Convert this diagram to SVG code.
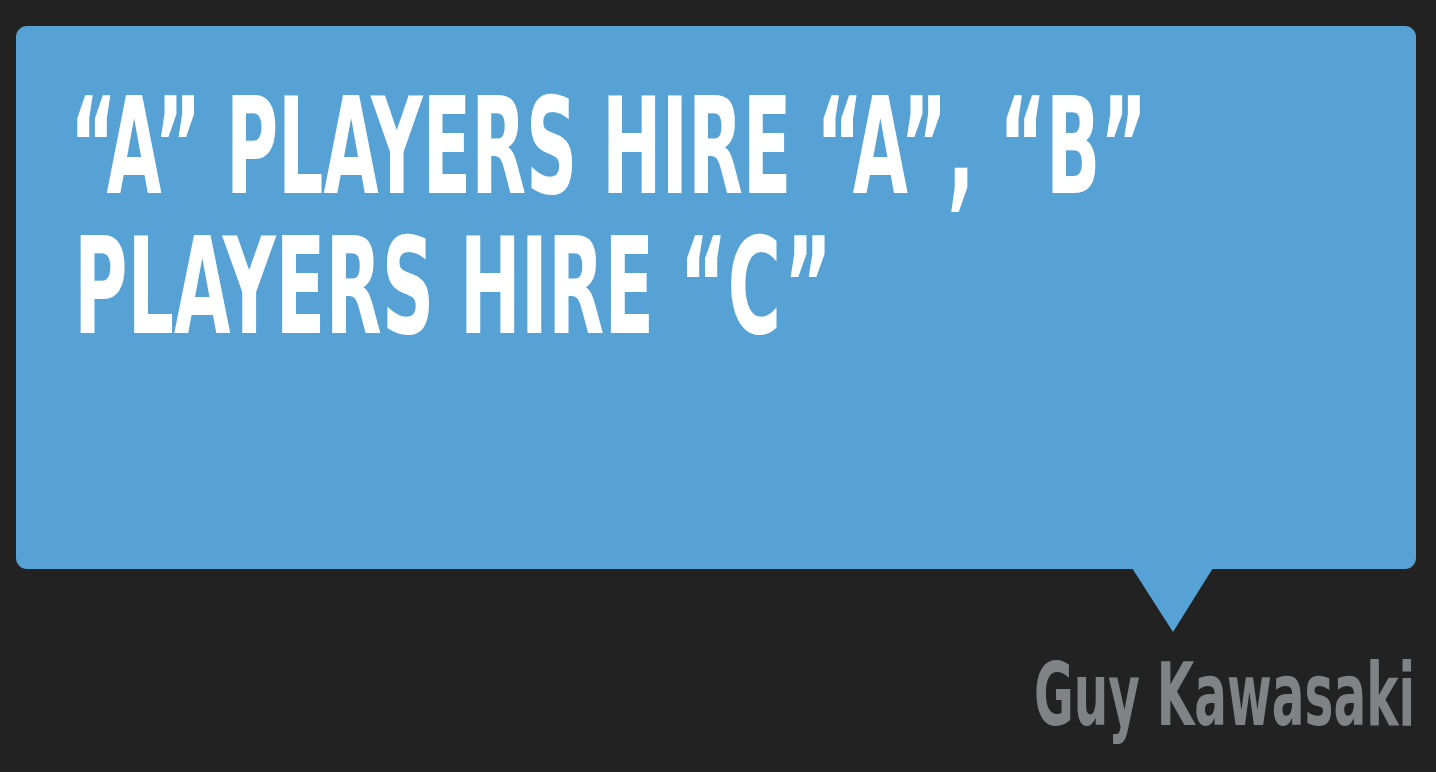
<svg xmlns="http://www.w3.org/2000/svg" width="1436" height="772" viewBox="0 0 1436 772">
<style>
.q{font-family:"DejaVu Sans Condensed","DejaVu Sans",sans-serif;font-weight:bold;fill:#ffffff;font-size:134px}
.a{font-family:"DejaVu Sans Condensed","DejaVu Sans",sans-serif;font-weight:bold;fill:#808384;font-size:88px}
</style>
<rect width="1436" height="772" fill="#222222"/>
<g id="bubble">
<rect x="16" y="26" width="1400" height="543" rx="11" fill="#57a2d4"/>
<polygon points="1132,568 1213,568 1173,632" fill="#57a2d4"/>
</g>
<g id="quote">
<text class="q" x="70" y="193" textLength="1077" lengthAdjust="spacingAndGlyphs">“A” PLAYERS HIRE “A”, “B”</text>
<text class="q" x="74" y="333" textLength="758" lengthAdjust="spacingAndGlyphs">PLAYERS HIRE “C”</text>
</g>
<g id="author">
<text class="a" x="1034" y="725" textLength="381" lengthAdjust="spacingAndGlyphs">Guy Kawasaki</text>
</g>
</svg>
